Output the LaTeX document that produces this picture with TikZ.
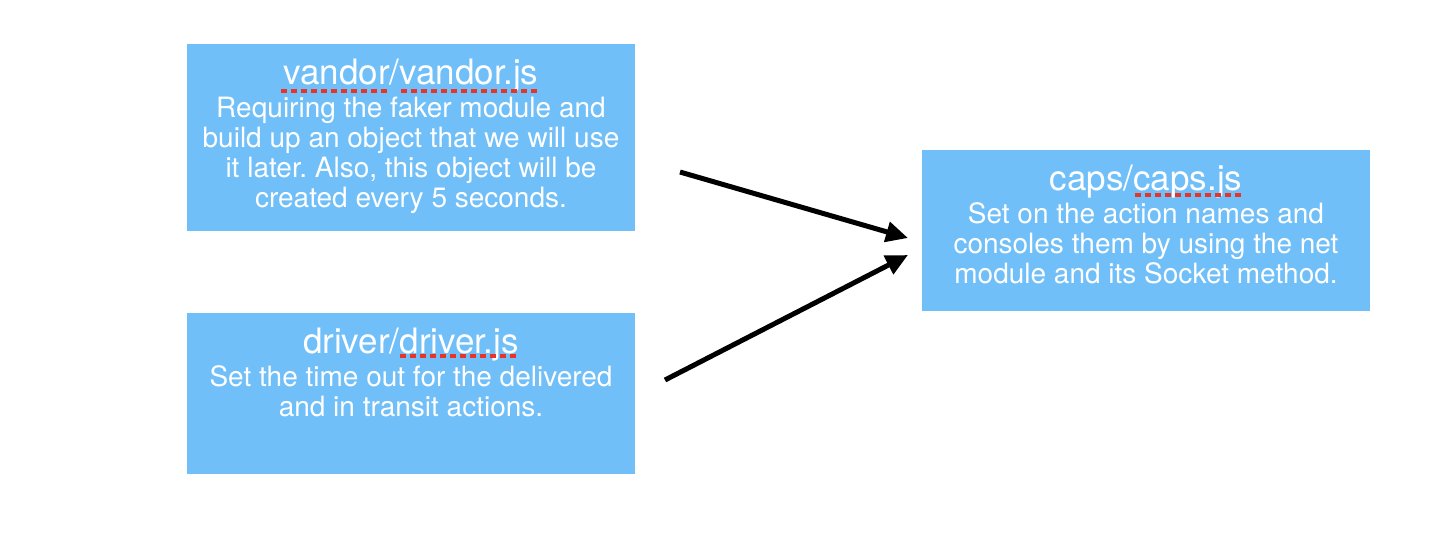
\documentclass[tikz,border=0pt]{standalone}
\usepackage{fontspec}
\setmainfont{TeX Gyre Heros}
\usetikzlibrary{positioning,arrows.meta}
\definecolor{boxblue}{RGB}{112,191,248}
\definecolor{spellred}{RGB}{232,52,38}
\frenchspacing
\begin{document}
\begin{tikzpicture}
            [x = 0.5pt, y = -0.5pt,
             box/.style = {rectangle, fill = boxblue, minimum width = 224pt, inner sep = 0pt},
             title/.style = {text = white, inner sep = 0pt, anchor = base, font = \fontsize{17.5}{21}\selectfont},
             body/.style = {text = white, inner sep = 0pt, align = center, anchor = north, font = \fontsize{14}{15}\selectfont},
             link/.style = {line width = 2.5pt, -{Triangle[length = 11pt, width = 10pt]}},
             spell/.style = {spellred, line width = 2pt, dash pattern = on 3pt off 2pt}]
            \useasboundingbox (0,0) rectangle (1448,538);
            \node[box, minimum height = 93.5pt] (vandor) at (411,137.5) {};
            \node[box, minimum height = 80.5pt] (driver) [below = 40.5pt of vandor] {};
            \node[box, minimum height = 80.5pt] (caps) at (1146,230.5) {};
            \node[title] (vandortitle) at ([yshift = -20.5pt]vandor.north) {vandor/vandor.js};
            \node[body] (vandortext) [below = 6pt of vandortitle.base]
                {Requiring the faker module and\\build up an object that we will use\\it later. Also, this object will be\\created every 5 seconds.};
            \node[title] (drivertitle) at ([yshift = -20.5pt]driver.north) {driver/driver.js};
            \node[body] (drivertext) [below = 6pt of drivertitle.base]
                {Set the time out for the delivered\\and in transit actions.};
            \node[title] (capstitle) at ([yshift = -20.5pt]caps.north) {caps/caps.js};
            \node[body] (capstext) [below = 6pt of capstitle.base]
                {Set on the action names and\\consoles them by using the net\\module and its Socket method.};
            \draw[spell] (281,90.5) -- (388,90.5);
            \draw[spell] (401,90.5) -- (540,90.5);
            \draw[spell] (400,356) -- (517,356);
            \draw[spell] (1135,194.5) -- (1242,194.5);
            \coordinate (vandorout) at (680,172);
            \coordinate (driverout) at (665,380);
            \coordinate (capsin) at (908,238);
            \coordinate (capsin2) at (908,255);
            \draw[link] (vandorout) -- (capsin);
            \draw[link] (driverout) -- (capsin2);
        \end{tikzpicture}
\end{document}
